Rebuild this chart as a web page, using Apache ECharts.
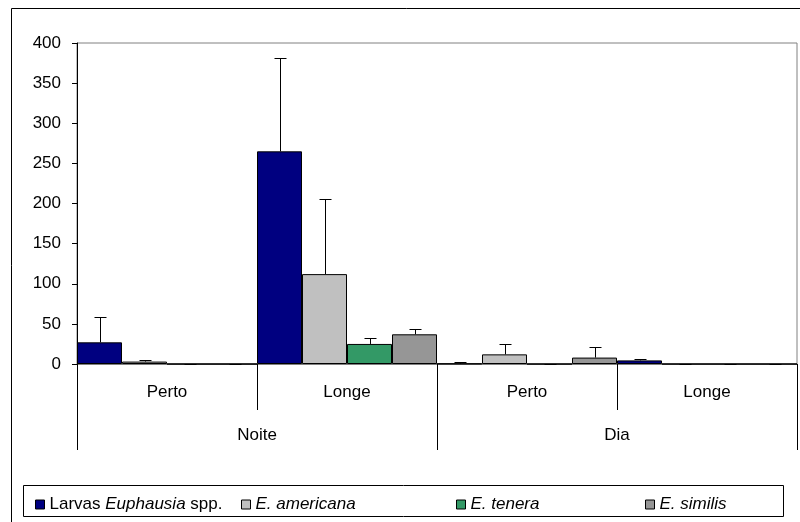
<!DOCTYPE html>
<html>
<head>
<meta charset="utf-8">
<script src="https://cdn.jsdelivr.net/npm/echarts@6/dist/echarts.min.js"></script>
<style>
  html, body { margin: 0; padding: 0; background: #ffffff; }
  #chart { width: 800px; height: 522px; }
</style>
</head>
<body>
<div id="chart"></div>
<script>
// Sampling sites (inner level) and period (outer level)
const sites = ['Perto', 'Longe', 'Perto', 'Longe'];
const periods = ['Noite', 'Dia'];
const yTicks = { min: 0, max: 400, step: 50 };

// Mean densities and their upper error per site
const larvas = [27, 265, 0.5, 4.5];
const larvasErr = [31, 116, 1.5, 1.5];
const americana = [3, 112, 12, 0];
const americanaErr = [1.5, 93, 13, 0];
const tenera = [0, 25, 0, 0];
const teneraErr = [0, 8, 0, 0];
const similis = [0, 37, 8, 0];
const similisErr = [0, 6, 13, 0];

const seriesDefs = [
  { name: 'Larvas', values: larvas, errors: larvasErr, color: '#000080',
    label: '{n|Larvas }{i|Euphausia}{n| spp.}', legendLeft: 30 },
  { name: 'E. americana', values: americana, errors: americanaErr, color: '#C0C0C0',
    label: '{i|E. americana}', legendLeft: 236 },
  { name: 'E. tenera', values: tenera, errors: teneraErr, color: '#339966',
    label: '{i|E. tenera}', legendLeft: 451 },
  { name: 'E. similis', values: similis, errors: similisErr, color: '#969696',
    label: '{i|E. similis}', legendLeft: 640 }
];

const FONT = 'Liberation Sans, Arial, sans-serif';
const FS = 17;

const chart = echarts.init(document.getElementById('chart'), null, { renderer: 'canvas' });

const series = [];
seriesDefs.forEach(function (d) {
  series.push({
    name: d.name,
    type: 'bar',
    xAxisIndex: 0,
    barGap: '0%',
    barCategoryGap: '0%',
    data: d.values,
    itemStyle: { color: d.color, borderColor: '#000000', borderWidth: 1 },
    emphasis: { disabled: true },
    z: 2
  });
});

// Upward error bars, offset to sit on the matching bar in each group
seriesDefs.forEach(function (d, idx) {
  series.push({
    name: d.name + ' erro',
    type: 'custom',
    xAxisIndex: 0,
    data: d.values.map(function (v, i) { return [i, v, d.errors[i]]; }),
    renderItem: function (params, api) {
      const cat = api.value(0);
      const val = api.value(1);
      const err = api.value(2);
      const band = api.size([1, 0])[0];
      const x = Math.round(api.coord([cat, 0])[0] + (idx - 1.5) * band / 4) + 0.5;
      const yBase = api.coord([cat, val])[1];
      const yTop = Math.round(api.coord([cat, val + err])[1]) + 0.5;
      const style = { stroke: '#000000', lineWidth: 1 };
      return {
        type: 'group',
        children: [
          { type: 'line', shape: { x1: x, y1: yBase, x2: x, y2: yTop }, style: style },
          { type: 'line', shape: { x1: x - 6, y1: yTop, x2: x + 6, y2: yTop }, style: style }
        ]
      };
    },
    z: 3,
    silent: true
  });
});

const legends = seriesDefs.map(function (d) {
  return {
    data: [d.name],
    left: d.legendLeft,
    top: 491,
    itemWidth: 9,
    itemHeight: 9,
    itemGap: 4,
    icon: 'rect',
    selectedMode: false,
    formatter: function () { return d.label; },
    itemStyle: { borderColor: '#000000', borderWidth: 1 },
    textStyle: {
      color: '#000000',
      fontFamily: FONT,
      fontSize: FS,
      rich: {
        n: { fontFamily: FONT, fontSize: FS, color: '#000000' },
        i: { fontFamily: FONT, fontSize: FS, color: '#000000', fontStyle: 'italic' }
      }
    }
  };
});

chart.setOption({
  backgroundColor: '#ffffff',
  animation: false,
  grid: {
    left: 77, top: 43, width: 720, height: 321,
    show: true, borderColor: '#808080', borderWidth: 1, backgroundColor: 'transparent'
  },
  legend: legends,
  xAxis: [
    {
      type: 'category',
      data: sites,
      position: 'bottom',
      axisLine: { lineStyle: { color: '#808080', width: 1 } },
      axisTick: { show: true, alignWithLabel: false, length: 46, lineStyle: { color: '#000000' } },
      axisLabel: { margin: 20, color: '#000000', fontFamily: FONT, fontSize: FS },
      splitLine: { show: false }
    },
    {
      type: 'category',
      data: periods,
      position: 'bottom',
      axisLine: { show: false },
      axisTick: { show: true, alignWithLabel: false, length: 86, lineStyle: { color: '#000000' } },
      axisLabel: { margin: 63, color: '#000000', fontFamily: FONT, fontSize: FS },
      splitLine: { show: false }
    }
  ],
  yAxis: {
    type: 'value',
    min: yTicks.min,
    max: yTicks.max,
    interval: yTicks.step,
    axisLine: { show: true, lineStyle: { color: '#000000' } },
    axisTick: { show: true, length: 5, lineStyle: { color: '#000000' } },
    axisLabel: { margin: 16, color: '#000000', fontFamily: FONT, fontSize: FS },
    splitLine: { show: false }
  },
  graphic: [
    { type: 'rect', shape: { x: 11.5, y: 8.5, width: 800, height: 520 },
      style: { fill: null, stroke: '#000000', lineWidth: 1 }, silent: true, z: -1 },
    { type: 'rect', shape: { x: 23.5, y: 485.5, width: 760, height: 31 },
      style: { fill: '#ffffff', stroke: '#000000', lineWidth: 1 }, silent: true, z: -1 }
  ],
  series: series
});
</script>
</body>
</html>
